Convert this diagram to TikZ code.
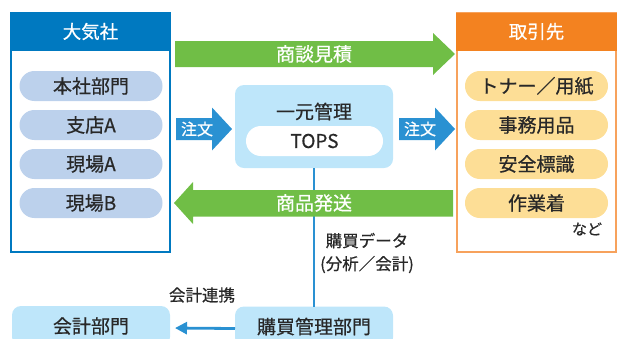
\documentclass[tikz,border=0pt]{standalone}
\usepackage{fontspec}
\setmainfont{Noto Sans CJK JP}[FakeBold=0.6]
\usetikzlibrary{arrows.meta,positioning,calc}

\definecolor{taikiblue}{RGB}{0,121,192}
\definecolor{pillblue}{RGB}{188,209,236}
\definecolor{torihead}{RGB}{243,130,32}
\definecolor{toriline}{RGB}{247,162,92}
\definecolor{pillyellow}{RGB}{253,222,150}
\definecolor{sendgreen}{RGB}{112,190,70}
\definecolor{orderblue}{RGB}{42,145,210}
\definecolor{kanriblue}{RGB}{190,230,250}
\definecolor{inktext}{RGB}{40,40,40}

\begin{document}
\begin{tikzpicture}[x=1pt, y=-1pt,
    frame/.style={rectangle, line width=1.2pt, outer sep=0pt, minimum width=159pt, minimum height=239.5pt, anchor=north west},
    head/.style={rectangle, outer sep=0pt, text=white, minimum width=160.2pt, minimum height=38pt, anchor=north, font=\fontsize{18.5}{19}\selectfont},
    lpill/.style={rectangle, rounded corners=14.9pt, fill=pillblue, text=inktext, minimum width=143pt, minimum height=30pt, font=\fontsize{19}{19}\selectfont},
    rpill/.style={lpill, fill=pillyellow},
    arrowtext/.style={text=white, font=\fontsize{19}{19}\selectfont},
    ordertext/.style={text=white, font=\fontsize{16}{16}\selectfont},
    unit/.style={rectangle, rounded corners=9pt, fill=kanriblue, text=inktext, outer sep=0pt, minimum width=158pt, minimum height=40pt, anchor=north west, font=\fontsize{19}{19}\selectfont},
    note/.style={text=inktext, align=center, font=\fontsize{16.5}{23}\selectfont},
    flowline/.style={draw=orderblue, line width=2.8pt}
]
\useasboundingbox (0,0) rectangle (618,338);
\clip (0,0) rectangle (618,338);

% --- Taikisha side ---
\node[frame, draw=taikiblue] (taiki) at (11,12.5) {};
\node[head, fill=taikiblue] (taikihead) at (taiki.north) {大気社};
\node[lpill] (honsha) at (91,86) {本社部門};
\node[lpill] (shitenA) at (91,125) {支店A};
\node[lpill] (genbaA) at (91,164) {現場A};
\node[lpill] (genbaB) at (91,203) {現場B};

% --- Supplier side ---
\node[frame, draw=toriline] (tori) at (457,12.5) {};
\node[head, fill=torihead] (torihead) at (tori.north) {取引先};
\node[rpill] (toner) at (536.5,86) {トナー／用紙};
\node[rpill] (jimu) at (536.5,125) {事務用品};
\node[rpill] (anzen) at (536.5,164) {安全標識};
\node[rpill] (sagyo) at (536.5,203) {作業着};
\node[note, font=\fontsize{15}{15}\selectfont] (nado) at (587,229) {など};

% --- TOPS in the middle ---
\node[unit, minimum height=83pt] (kanri) at (235,85) {};
\node[text=inktext, font=\fontsize{19}{19}\selectfont] (ichigen) at (314,111.5) {一元管理};
\node[rectangle, rounded corners=14.9pt, fill=white, text=inktext, minimum width=137pt, minimum height=30pt, font=\fontsize{19}{19}\selectfont] (tops) at (314.5,141) {TOPS};

% --- bottom departments ---
\node[unit] (kaikei) at (12,306) {会計部門};
\node[unit] (kobai) at (235,306.5) {購買管理部門};
\draw[flowline] (kanri.south) -- (kobai.north);
\draw[flowline, -{Triangle[length=12pt,width=12pt]}, shorten >=5pt] ([yshift=-2pt]kobai.west) -- ([yshift=-2pt]kaikei.east);
\node[note] (kobaidata) at (367,253) {購買データ\\(分析／会計)};
\node[note] (renkei) at (202,295) {会計連携};

% --- big green arrows ---
\fill[sendgreen] (175,41) -- (433,41) -- (433,33) -- (455,54) -- (433,75) -- (433,67) -- (175,67) -- cycle;
\node[arrowtext] (shodan) at (314,54) {商談見積};
\fill[sendgreen] (453,190) -- (193,190) -- (193,182) -- (174,203) -- (193,224) -- (193,216.5) -- (453,216.5) -- cycle;
\node[arrowtext] (hasso) at (314,203) {商品発送};

% --- order arrows ---
\fill[orderblue] (176,118) -- (212,118) -- (212,107.5) -- (232,129) -- (212,150.5) -- (212,140) -- (176,140) -- cycle;
\node[ordertext] (chumonL) at (197,129) {注文};
\fill[orderblue] (399,118) -- (435,118) -- (435,107.5) -- (455,129) -- (435,150.5) -- (435,140) -- (399,140) -- cycle;
\node[ordertext] (chumonR) at (420,129) {注文};

\end{tikzpicture}
\end{document}
